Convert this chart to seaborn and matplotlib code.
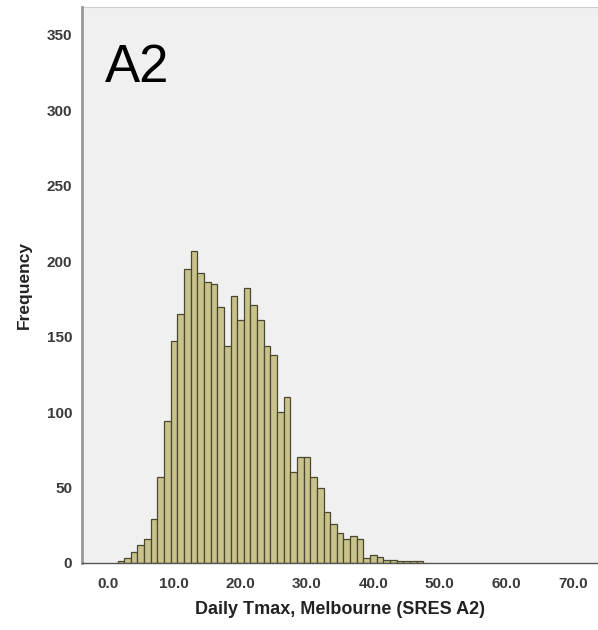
import numpy as np
import pandas as pd
import matplotlib
matplotlib.use("Agg")
import matplotlib.pyplot as plt
import seaborn as sns

# Bin centres (deg C, bin width 1.0) and frequencies
bin_centers = list(range(2, 48))
counts = [1, 3, 7, 12, 16, 29, 57, 94, 147, 165, 195, 207, 192, 186, 185,
          170, 144, 177, 161, 182, 171, 161, 144, 138, 100, 110, 60, 70,
          70, 57, 50, 34, 26, 20, 16, 18, 16, 3, 5, 4, 2, 2, 1, 1, 1, 1]
x_ticks = [0, 10, 20, 30, 40, 50, 60, 70]
x_tick_labels = ["0.0", "10.0", "20.0", "30.0", "40.0", "50.0", "60.0", "70.0"]
y_ticks = [0, 50, 100, 150, 200, 250, 300, 350]

df = pd.DataFrame({"tmax": bin_centers, "freq": counts})

sns.set_style("white")
plt.rcParams["font.family"] = ["Liberation Sans", "DejaVu Sans"]

fig = plt.figure(figsize=(5.98, 6.30), dpi=100)
ax = fig.add_axes([82 / 598, 1 - 563 / 630, 1 - 82 / 598, (563 - 7) / 630])
ax.set_facecolor("#f0f0f0")

sns.histplot(data=df, x="tmax", weights="freq", binwidth=1.0,
             binrange=(min(bin_centers) - 0.5, max(bin_centers) + 0.5), ax=ax,
             color="#c8c38a", edgecolor="#4a4830", linewidth=0.9, alpha=1.0)

ax.set_xlim(-3.85, 73.8)
ax.set_ylim(0, 368.5)
ax.set_xticks(x_ticks)
ax.set_xticklabels(x_tick_labels)
ax.set_yticks(y_ticks)

ax.tick_params(axis="both", which="major", direction="out", length=5,
               width=0.9, color="#666666", labelsize=11, labelcolor="#3a3a3a",
               pad=2)
for lab in ax.get_xticklabels() + ax.get_yticklabels():
    lab.set_fontweight("bold")
ax.tick_params(axis="x", pad=5)

for side in ["top", "right"]:
    ax.spines[side].set_visible(False)
ax.spines["left"].set_color("#999999")
ax.spines["left"].set_linewidth(2.0)
ax.spines["bottom"].set_color("#555555")
ax.spines["bottom"].set_linewidth(1.0)
ax.axhline(368.5, color="#cccccc", linewidth=1.5)

ax.set_xlabel("Daily Tmax, Melbourne (SRES A2)", fontsize=13,
              fontweight="bold", color="#222222", labelpad=7)
ax.set_ylabel("Frequency", fontsize=12.5, fontweight="bold",
              color="#222222", labelpad=11)

ax.text(0.044, 0.865, "A2", transform=ax.transAxes, fontsize=38,
        color="black", ha="left", va="baseline")

fig.savefig("out.png", dpi=100, facecolor="white")
